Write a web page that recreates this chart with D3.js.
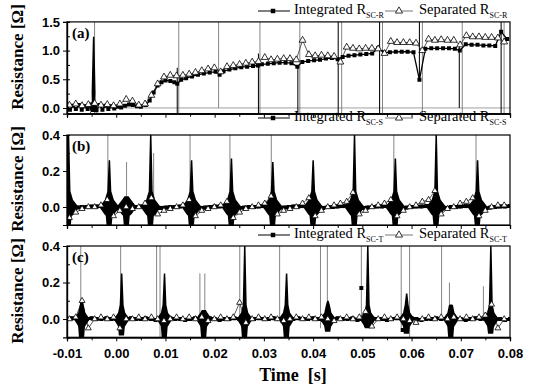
<!DOCTYPE html>
<html>
<head>
<meta charset="utf-8">
<script src="https://cdn.jsdelivr.net/npm/d3@7"></script>
<style>
body { margin: 0; background: #fff; }
svg { display: block; }
</style>
</head>
<body>
<svg id="chart" width="536" height="386"></svg>
<script>
// x axis
var xMajor = [-0.01, 0.00, 0.01, 0.02, 0.03, 0.04, 0.05, 0.06, 0.07, 0.08];
var xLabels = ['-0.01', '0.00', '0.01', '0.02', '0.03', '0.04', '0.05', '0.06', '0.07', '0.08'];
var xMinor = [-0.005, 0.005, 0.015, 0.025, 0.035, 0.045, 0.055, 0.065, 0.075];

// y ticks
var aTicks = [0.0, 0.5, 1.0, 1.5];
var aTickLabels = ['0.0', '0.5', '1.0', '1.5'];
var aMinor = [0.25, 0.5, 0.75, 1.0, 1.25];
var bcTicks = [0.0, 0.2, 0.4];
var bcTickLabels = ['0.0', '0.2', '0.4'];
var bcMinor = [0.1, 0.2, 0.3];

// sampling grids (s)
var tBase = d3.range(-10, 81).map(function (i) { return i / 1000; });
var tSep = d3.range(70).map(function (i) { return -0.0095 + i * 0.00128; });

// (a) integrated R_SC-R  [t, R]
var aInt = [
  [-0.0100, 0.01], [-0.0094, -0.03], [-0.0088, 0.04], [-0.0082, -0.02], [-0.0076, 0.05], [-0.0070, -0.03],
  [-0.0064, 0.03], [-0.0058, -0.02], [-0.0052, 0.06], [-0.0040, -0.04], [-0.0034, 0.05], [-0.0028, -0.03],
  [-0.0022, 0.04], [-0.0016, -0.02], [-0.0010, 0.03], [-0.0004, -0.01], [0.0002, 0.02], [0.0010, 0.01],
  [0.0018, 0.04], [0.0026, 0.06], [0.0034, 0.05], [0.0042, 0.03], [0.0050, 0.02], [0.0060, 0.05],
  [0.0068, 0.13], [0.0076, 0.27], [0.0084, 0.39], [0.0092, 0.45], [0.0100, 0.48], [0.0110, 0.47],
  [0.0118, 0.45], [0.0124, 0.42], [0.0132, 0.49], [0.0142, 0.52], [0.0154, 0.55], [0.0166, 0.58],
  [0.0178, 0.60], [0.0190, 0.62], [0.0202, 0.63], [0.0210, 0.58], [0.0218, 0.64], [0.0230, 0.67],
  [0.0242, 0.69], [0.0254, 0.71], [0.0266, 0.72], [0.0278, 0.73], [0.0288, 0.74], [0.0296, 0.76],
  [0.0308, 0.77], [0.0320, 0.78], [0.0332, 0.79], [0.0344, 0.79], [0.0356, 0.78], [0.0368, 0.72],
  [0.0378, 0.80], [0.0390, 0.82], [0.0402, 0.83], [0.0414, 0.84], [0.0426, 0.86], [0.0438, 0.87],
  [0.0450, 0.85], [0.0460, 0.89], [0.0472, 0.91], [0.0484, 0.92], [0.0496, 0.93], [0.0508, 0.94],
  [0.0520, 0.95], [0.0532, 1.04], [0.0544, 0.97], [0.0556, 0.97], [0.0568, 0.98], [0.0580, 0.98],
  [0.0592, 0.98], [0.0604, 0.97], [0.0616, 0.49], [0.0628, 1.03], [0.0640, 1.04], [0.0652, 1.04],
  [0.0664, 1.04], [0.0676, 1.04], [0.0688, 1.03], [0.0698, 1.00], [0.0710, 1.11], [0.0722, 1.10],
  [0.0734, 1.10], [0.0746, 1.09], [0.0758, 1.09], [0.0770, 1.08], [0.0782, 1.33], [0.0794, 1.20]
];
// (a) separated R_SC-R on tSep
var aSep = [
  0.05, 0.07, 0.04, 0.06, 0.08, 0.05, 0.06, 0.04, 0.07, 0.15,
  0.12, 0.05, 0.07, 0.22, 0.42, 0.54, 0.57, 0.56, 0.57, 0.59,
  0.62, 0.65, 0.68, 0.70, 0.63, 0.72, 0.74, 0.76, 0.78, 0.80,
  0.81, 0.88, 0.84, 0.85, 0.86, 0.86, 0.84, 1.18, 0.93, 0.91,
  0.92, 0.91, 0.90, 0.80, 1.06, 1.04, 1.03, 1.04, 1.04, 1.03,
  0.95, 1.16, 1.14, 1.14, 1.14, 1.13, 1.00, 1.20, 1.18, 1.19,
  1.18, 1.18, 1.10, 1.26, 1.24, 1.24, 1.23, 1.23, 1.22, 1.15
];
// bursts [t, top, bottom]
var aBursts = [[-0.0046, 1.24, -0.07]];
// spikes [t, low, high]
var aThin = [
  [-0.0044, -0.1, 1.5], [0.0127, -0.1, 1.5], [0.0208, 0.0, 1.5], [0.0292, -0.1, 1.5], [0.0373, -0.1, 1.5],
  [0.0458, -0.1, 1.5], [0.0541, -0.1, 1.5], [0.0622, -0.1, 1.5], [0.0703, -0.1, 1.5], [0.0788, -0.1, 1.5]
];
var aDark = [
  [0.0124, -0.1, 0.70], [0.0289, -0.1, 0.95], [0.0369, -0.1, 0.72], [0.0451, -0.1, 1.5],
  [0.0535, -0.1, 1.5], [0.0616, 0.49, 1.5], [0.0697, 0.0, 1.1], [0.0782, -0.1, 1.5]
];

// (b) integrated R_SC-S on tBase
var bInt = [
  0.000, -0.005, -0.003, 0.000, 0.000, 0.003, 0.003, 0.005, 0.008, 0.000,
  -0.008, -0.005, 0.000, -0.003, 0.000, 0.003, 0.005, 0.000, -0.008, -0.005,
  -0.003, 0.000, 0.000, 0.003, 0.005, 0.008, -0.008, -0.005, -0.003, 0.000,
  0.003, 0.003, 0.005, 0.008, -0.008, -0.005, -0.003, 0.000, 0.000, 0.003,
  0.005, 0.008, -0.005, -0.005, -0.003, 0.000, 0.003, 0.003, 0.005, 0.008,
  0.000, -0.008, -0.005, 0.000, 0.000, 0.003, 0.005, 0.005, 0.008, -0.008,
  -0.005, -0.003, 0.000, 0.003, 0.003, 0.005, 0.008, -0.005, -0.005, -0.003,
  0.000, 0.003, 0.003, 0.005, 0.008, 0.000, -0.008, -0.005, 0.000, 0.000,
  0.003, 0.005, 0.005, 0.008, -0.005, -0.008, -0.003, 0.000, 0.003, 0.003, 0.005
];
var bSep = [
  -0.06, -0.03, -0.01, 0.00, 0.00, 0.01, 0.04, -0.05, -0.02, 0.00,
  -0.01, 0.00, 0.02, 0.05, -0.04, -0.02, -0.01, 0.00, 0.01, 0.04,
  -0.05, -0.02, -0.01, 0.00, 0.01, 0.03, -0.06, -0.03, -0.01, 0.00,
  0.01, 0.02, 0.06, -0.04, -0.02, -0.01, 0.00, 0.02, 0.05, -0.05,
  -0.02, 0.00, 0.01, 0.02, 0.03, 0.08, -0.04, -0.02, 0.00, 0.01,
  0.02, 0.04, -0.05, -0.02, 0.00, 0.01, 0.03, 0.04, 0.09, -0.04,
  -0.01, 0.00, 0.02, 0.03, 0.05, -0.05, -0.02, 0.00, 0.01, 0.01
];
var bBursts = [
  [-0.0097, 0.40, -0.10], [-0.0014, 0.26, -0.10], [0.0021, 0.06, -0.10], [0.0070, 0.40, -0.10],
  [0.0153, 0.26, -0.10], [0.0234, 0.27, -0.10], [0.0318, 0.25, -0.10], [0.0400, 0.26, -0.10],
  [0.0484, 0.40, -0.10], [0.0567, 0.27, -0.10], [0.0650, 0.40, -0.10], [0.0734, 0.26, -0.10]
];
var bThin = [
  [-0.0099, -0.1, 0.4], [-0.0017, -0.05, 0.4], [0.0021, -0.1, 0.25], [0.0076, 0.03, 0.3],
  [0.0150, -0.05, 0.4], [0.0231, -0.05, 0.4], [0.0315, -0.05, 0.4], [0.0564, -0.05, 0.4], [0.0731, -0.05, 0.4]
];
var bDark = [];

// (c) integrated R_SC-T on tBase
var cInt = [
  0.000, 0.005, 0.000, -0.005, 0.000, 0.005, 0.000, 0.000, 0.005, 0.000,
  0.000, -0.005, 0.000, 0.005, 0.000, 0.000, 0.005, 0.000, -0.005, 0.000,
  0.000, 0.005, 0.000, 0.000, -0.005, 0.000, 0.005, 0.000, 0.000, 0.005,
  0.000, -0.005, 0.000, 0.000, 0.005, 0.000, 0.000, -0.005, 0.000, 0.005,
  0.000, 0.000, 0.005, 0.000, -0.005, 0.000, 0.000, 0.005, 0.000, 0.000,
  0.005, 0.000, -0.005, 0.000, 0.000, 0.005, 0.000, 0.000, 0.005, -0.005,
  0.000, 0.000, 0.005, 0.000, 0.000, -0.005, 0.000, 0.005, 0.000, 0.000,
  0.005, 0.000, -0.005, 0.000, 0.000, 0.005, 0.000, 0.000, 0.005, 0.000,
  0.000, -0.005, 0.000, 0.005, 0.000, 0.000, 0.005, 0.000, 0.000, -0.005, 0.000
];
var cSep = [
  0.00, 0.01, 0.10, -0.05, 0.00, 0.01, 0.00, 0.01, -0.05, 0.00,
  0.00, 0.01, 0.00, 0.01, 0.00, -0.01, 0.00, 0.01, 0.00, 0.01,
  0.00, 0.01, -0.01, 0.00, 0.01, 0.00, 0.01, 0.09, -0.02, 0.00,
  0.01, 0.00, 0.01, 0.00, -0.01, 0.00, 0.01, 0.00, 0.01, 0.00,
  0.01, 0.00, -0.01, 0.00, 0.01, 0.00, 0.01, 0.04, -0.04, 0.00,
  0.01, 0.00, 0.01, 0.00, -0.01, -0.02, 0.00, 0.01, 0.00, 0.01,
  0.00, 0.01, 0.00, 0.01, 0.00, 0.01, 0.02, 0.08, -0.05, 0.00
];
var cExtra = [[0.0498, 0.17], [0.0582, -0.06]];
var cBursts = [
  [-0.0070, 0.11, -0.10], [0.0011, 0.25, -0.09], [0.0098, 0.25, -0.10], [0.0178, 0.05, -0.10],
  [0.0261, 0.40, -0.10], [0.0346, 0.25, -0.10], [0.0430, 0.10, -0.07], [0.0511, 0.40, -0.05],
  [0.0590, 0.14, -0.08], [0.0680, 0.08, -0.10], [0.0761, 0.40, -0.08]
];
var cThin = [
  [-0.0072, -0.02, 0.4], [0.0009, -0.02, 0.4], [0.0082, 0.0, 0.4], [0.0089, -0.1, 0.4],
  [0.0170, 0.0, 0.25], [0.0180, -0.1, 0.25], [0.0251, 0.0, 0.4], [0.0332, 0.0, 0.4],
  [0.0415, -0.05, 0.4], [0.0429, -0.05, 0.4], [0.0498, 0.0, 0.4], [0.0579, -0.05, 0.4],
  [0.0596, -0.1, 0.4], [0.0661, 0.0, 0.4], [0.0677, -0.05, 0.2], [0.0746, 0.0, 0.18]
];
var cDark = [];

function pairs(ts, vs) {
    return ts.map(function (t, i) { return [t, vs[i]]; });
}

var svg = d3.select('#chart');
var x = d3.scaleLinear().domain([-0.01, 0.08]).range([67, 510]);

var panels = [
    { id: 'a', label: '(a)', sub: 'SC-R', y: d3.scaleLinear().domain([-0.1, 1.5]).range([113.7, 21.9]),
      ticks: aTicks, tickLabels: aTickLabels, minor: aMinor,
      int: aInt, sep: pairs(tSep, aSep), extra: [], bursts: aBursts, thin: aThin, dark: aDark,
      legendY: 11, titleY: 57, bw: 4, ba: 0.12, zero: true, tri: 20, intW: 1.3 },
    { id: 'b', label: '(b)', sub: 'SC-S', y: d3.scaleLinear().domain([-0.1, 0.4]).range([225, 135]),
      ticks: bcTicks, tickLabels: bcTickLabels, minor: bcMinor,
      int: pairs(tBase, bInt), sep: pairs(tSep, bSep), extra: [], bursts: bBursts, thin: bThin, dark: bDark,
      legendY: 118, titleY: 179, bw: 10, ba: 0.04, zero: false, tri: 15, intW: 3.5 },
    { id: 'c', label: '(c)', sub: 'SC-T', y: d3.scaleLinear().domain([-0.1, 0.4]).range([337.3, 246]),
      ticks: bcTicks, tickLabels: bcTickLabels, minor: bcMinor,
      int: pairs(tBase, cInt), sep: pairs(tSep, cSep), extra: cExtra, bursts: cBursts, thin: cThin, dark: cDark,
      legendY: 235, titleY: 291, bw: 8, ba: 0.035, zero: false, tri: 15, intW: 3 }
];

function burstPath(p) {
    return function (d) {
        var cx = x(d[0]), y = p.y, w = p.bw, a = p.ba;
        var mid = Math.min(d[1], a * 2.2);
        var low = Math.max(d[2], -a * 1.2);
        var pts = [
            [cx - w, y(0)], [cx - w * 0.45, y(a)], [cx - 2, y(mid)], [cx - 0.7, y(d[1])],
            [cx + 0.8, y(d[1])], [cx + 2, y(mid)], [cx + w * 0.45, y(a)], [cx + w, y(0)],
            [cx + w * 0.5, y(-a)], [cx + 3.2, y(low)], [cx + 2.4, y(d[2])], [cx - 2.8, y(d[2])],
            [cx - 3.6, y(low)], [cx - w * 0.5, y(-a)]
        ];
        return d3.line()(pts) + 'Z';
    };
}

panels.forEach(function (p, k) {
    var y = p.y;
    var y0 = y.range()[0], y1 = y.range()[1];
    var g = svg.append('g').attr('class', 'panel-' + p.id);

    svg.append('clipPath').attr('id', 'clip-' + p.id)
      .append('rect')
        .attr('x', x.range()[0]).attr('y', y1)
        .attr('width', x.range()[1] - x.range()[0]).attr('height', y0 - y1);

    var plot = g.append('g').attr('clip-path', 'url(#clip-' + p.id + ')');

    if (p.zero) {
        plot.append('line')
            .attr('x1', x.range()[0]).attr('x2', x.range()[1])
            .attr('y1', y(0)).attr('y2', y(0))
            .attr('stroke', '#888').attr('stroke-width', 0.8);
    }

    // thin separated spikes
    plot.selectAll('.thin').data(p.thin).enter()
      .append('line')
        .attr('x1', function (d) { return x(d[0]); })
        .attr('x2', function (d) { return x(d[0]); })
        .attr('y1', function (d) { return y(d[1]); })
        .attr('y2', function (d) { return y(d[2]); })
        .attr('stroke', '#666').attr('stroke-width', 0.8);

    plot.selectAll('.dark').data(p.dark).enter()
      .append('line')
        .attr('x1', function (d) { return x(d[0]); })
        .attr('x2', function (d) { return x(d[0]); })
        .attr('y1', function (d) { return y(d[1]); })
        .attr('y2', function (d) { return y(d[2]); })
        .attr('stroke', '#111').attr('stroke-width', 1.1);

    var line = d3.line()
        .x(function (d) { return x(d[0]); })
        .y(function (d) { return y(d[1]); });

    plot.append('path')
        .datum(p.sep)
        .attr('d', line)
        .attr('fill', 'none').attr('stroke', '#333').attr('stroke-width', 0.8);

    plot.append('path')
        .datum(p.int)
        .attr('d', line)
        .attr('fill', 'none').attr('stroke', '#000').attr('stroke-width', p.intW);

    plot.selectAll('.burst').data(p.bursts).enter()
      .append('path')
        .attr('d', burstPath(p))
        .attr('fill', '#000');

    var square = d3.symbol(d3.symbolSquare, 16);
    plot.selectAll('.sq').data(p.int.concat(p.extra)).enter()
      .append('path')
        .attr('d', square)
        .attr('transform', function (d) { return 'translate(' + x(d[0]) + ',' + y(d[1]) + ')'; })
        .attr('fill', '#000');

    var tri = d3.symbol(d3.symbolTriangle, p.tri);
    plot.selectAll('.tri').data(p.sep).enter()
      .append('path')
        .attr('d', tri)
        .attr('transform', function (d) { return 'translate(' + x(d[0]) + ',' + y(d[1]) + ')'; })
        .attr('fill', '#fff').attr('stroke', '#000').attr('stroke-width', 0.8);

    // frame
    g.append('rect')
        .attr('x', x.range()[0]).attr('y', y1)
        .attr('width', x.range()[1] - x.range()[0]).attr('height', y0 - y1)
        .attr('fill', 'none').attr('stroke', '#000').attr('stroke-width', 1.2);

    // axes
    var last = (k === panels.length - 1);
    var xAxis = d3.axisBottom(x).tickValues(xMajor).tickSize(4)
        .tickFormat(function (d, i) { return last ? xLabels[i] : ''; });
    var xg = g.append('g').attr('transform', 'translate(0,' + y0 + ')').call(xAxis);
    g.append('g').attr('transform', 'translate(0,' + y0 + ')')
        .call(d3.axisBottom(x).tickValues(xMinor).tickSize(3).tickFormat(''));

    var yAxis = d3.axisLeft(y).tickValues(p.ticks).tickSize(4)
        .tickFormat(function (d, i) { return p.tickLabels[i]; });
    var yg = g.append('g').attr('transform', 'translate(' + x.range()[0] + ',0)').call(yAxis);
    g.append('g').attr('transform', 'translate(' + x.range()[0] + ',0)')
        .call(d3.axisRight(y).tickValues(p.minor).tickSize(3).tickFormat(''));

    g.selectAll('.domain').attr('stroke', '#000').attr('stroke-width', 1.2);
    g.selectAll('.tick line').attr('stroke', '#000');
    [xg, yg].forEach(function (a) {
        a.selectAll('text')
            .attr('font-family', 'Liberation Sans, Arial, sans-serif')
            .attr('font-weight', 'bold').attr('font-size', 13).attr('fill', '#000');
    });
    xg.selectAll('text').attr('dy', '1.05em');

    // y title
    g.append('text')
        .attr('transform', 'translate(23,' + p.titleY + ') rotate(-90)')
        .attr('text-anchor', 'middle')
        .attr('font-family', 'Liberation Serif, Times New Roman, serif')
        .attr('font-weight', 'bold').attr('font-size', 17)
        .text('Resistance [Ω]');

    // panel label
    g.append('text')
        .attr('x', 72).attr('y', y1 + 16)
        .attr('font-family', 'Liberation Serif, Times New Roman, serif')
        .attr('font-weight', 'bold').attr('font-size', 15)
        .text(p.label);

    // legend
    var lg = g.append('g').attr('transform', 'translate(0,' + p.legendY + ')')
        .attr('font-family', 'Liberation Serif, Times New Roman, serif');
    lg.append('line').attr('x1', 258).attr('x2', 290).attr('y1', 0).attr('y2', 0)
        .attr('stroke', '#000').attr('stroke-width', 1);
    lg.append('path').attr('d', d3.symbol(d3.symbolSquare, 20)).attr('transform', 'translate(273,0)');
    var t1 = lg.append('text').attr('x', 294).attr('y', 3).attr('font-size', 14.5);
    t1.append('tspan').text('Integrated R');
    t1.append('tspan').attr('dy', 4).attr('font-size', 8).text(p.sub);
    lg.append('line').attr('x1', 385).attr('x2', 413).attr('y1', 0).attr('y2', 0)
        .attr('stroke', '#555').attr('stroke-width', 0.8);
    lg.append('path').attr('d', d3.symbol(d3.symbolTriangle, 22)).attr('transform', 'translate(399,0)')
        .attr('fill', '#fff').attr('stroke', '#000').attr('stroke-width', 0.8);
    var t2 = lg.append('text').attr('x', 419).attr('y', 3).attr('font-size', 14.5);
    t2.append('tspan').text('Separated R');
    t2.append('tspan').attr('dy', 4).attr('font-size', 8).text(p.sub);
});

svg.append('text')
    .attr('x', 293).attr('y', 381)
    .attr('text-anchor', 'middle')
    .attr('font-family', 'Liberation Serif, Times New Roman, serif')
    .attr('font-weight', 'bold').attr('font-size', 18)
    .attr('xml:space', 'preserve')
    .text('Time  [s]');
</script>
</body>
</html>
